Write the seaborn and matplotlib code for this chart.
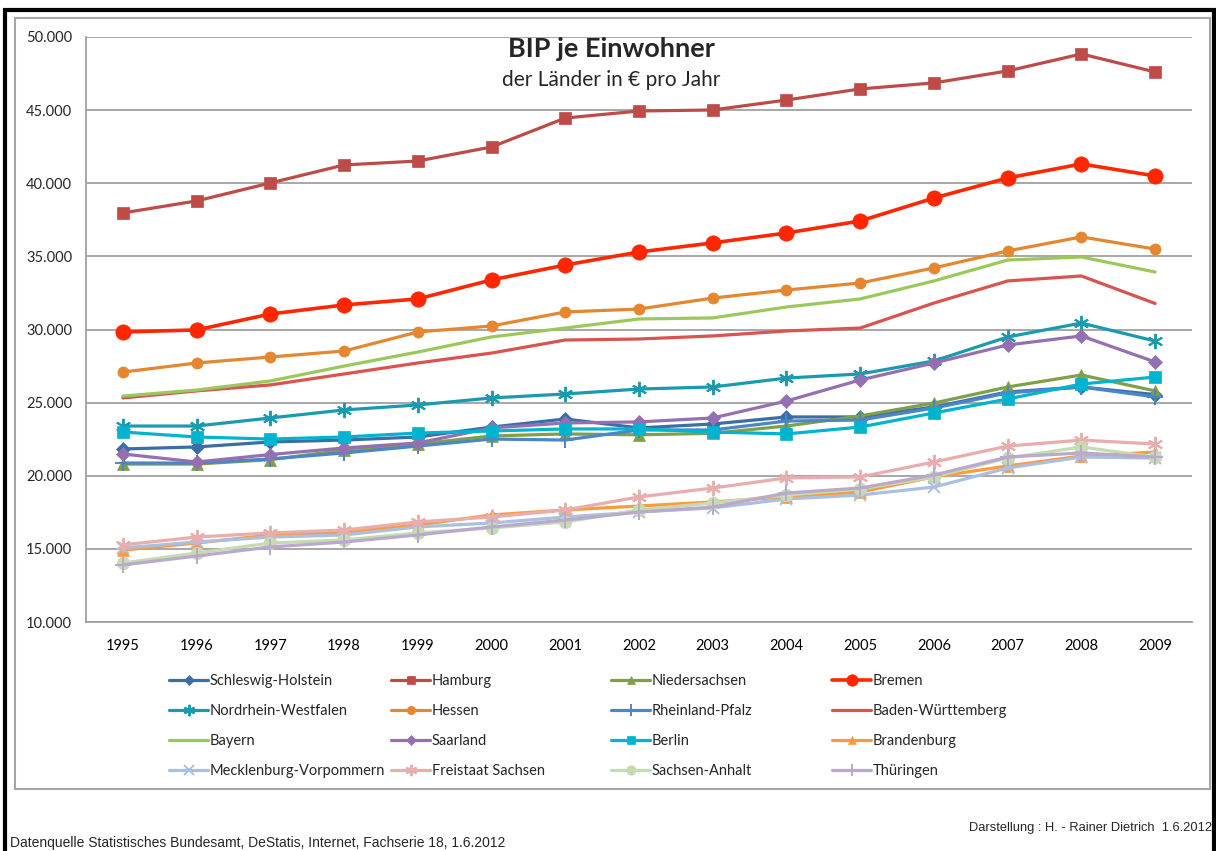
import numpy as np
import pandas as pd
import matplotlib
matplotlib.use("Agg")
import matplotlib.pyplot as plt
import seaborn as sns
from matplotlib.patches import Rectangle
from matplotlib.ticker import FuncFormatter, FixedLocator

## data (BIP je Einwohner, EUR)
years = [str(y) for y in range(1995, 2010)]

schleswig_holstein = [21830, 21970, 22310, 22440, 22650, 23330, 23880, 23270, 23540, 24020, 24020, 24700, 25730, 26070, 25550]
hamburg = [37970, 38790, 40020, 41250, 41520, 42480, 44460, 44940, 45010, 45690, 46450, 46860, 47680, 48840, 47610]
niedersachsen = [20800, 20800, 21100, 21750, 22170, 22720, 22860, 22800, 22900, 23400, 24090, 24970, 26070, 26890, 25800]
bremen = [29830, 29970, 31060, 31680, 32090, 33390, 34410, 35300, 35920, 36600, 37420, 38990, 40360, 41320, 40500]
nordrhein_westfalen = [23400, 23400, 23950, 24500, 24840, 25320, 25590, 25930, 26070, 26680, 26960, 27850, 29490, 30440, 29210]
hessen = [27090, 27710, 28120, 28530, 29830, 30240, 31200, 31400, 32150, 32700, 33180, 34210, 35370, 36330, 35500]
rheinland_pfalz = [20870, 20870, 21150, 21560, 22030, 22510, 22440, 23130, 23130, 23740, 23810, 24630, 25660, 26070, 25390]
baden_wuerttemberg = [25320, 25800, 26210, 26960, 27710, 28390, 29280, 29350, 29560, 29900, 30100, 31810, 33320, 33660, 31780]
bayern = [25450, 25860, 26480, 27500, 28460, 29490, 30100, 30720, 30790, 31540, 32090, 33320, 34750, 34960, 33930]
saarland = [21490, 20940, 21450, 21900, 22240, 23270, 23610, 23680, 23950, 25110, 26550, 27710, 28940, 29560, 27780]
berlin = [22990, 22650, 22510, 22650, 22920, 23060, 23200, 23200, 22990, 22860, 23330, 24290, 25250, 26270, 26750]
brandenburg = [14920, 15400, 15950, 16150, 16630, 17320, 17660, 17930, 18210, 18550, 18890, 19920, 20670, 21350, 21620]
mecklenburg_vorpommern = [15060, 15470, 15810, 15950, 16500, 16770, 17180, 17520, 17800, 18410, 18680, 19230, 20530, 21280, 21210]
freistaat_sachsen = [15270, 15810, 16090, 16290, 16840, 17180, 17660, 18550, 19160, 19850, 19920, 20940, 22030, 22440, 22170]
sachsen_anhalt = [14030, 14720, 15400, 15610, 16090, 16430, 16840, 17660, 18140, 18680, 19090, 19920, 21210, 21970, 21280]
thueringen = [13900, 14510, 15130, 15470, 15950, 16500, 16970, 17520, 17860, 18820, 19160, 20050, 21280, 21560, 21280]

## series: name, values, colour, marker, markersize, linewidth
series = [
    ("Schleswig-Holstein", schleswig_holstein, "#3A6EA5", "D", 7, 2.3),
    ("Hamburg", hamburg, "#BE4B48", "s", 8.5, 2.3),
    ("Niedersachsen", niedersachsen, "#7FA046", "^", 8, 2.3),
    ("Bremen", bremen, "#FF2600", "o", 11, 2.6),
    ("Nordrhein-Westfalen", nordrhein_westfalen, "#1A9AAF", (6, 2, 0), 11, 2.3),
    ("Hessen", hessen, "#E4872F", "o", 8, 2.3),
    ("Rheinland-Pfalz", rheinland_pfalz, "#4A86C8", "+", 11, 2.3),
    ("Baden-Württemberg", baden_wuerttemberg, "#D9534F", None, 0, 2.3),
    ("Bayern", bayern, "#9BC85B", None, 0, 2.3),
    ("Saarland", saarland, "#9470B3", "D", 7, 2.3),
    ("Berlin", berlin, "#00B4D0", "s", 8.5, 2.3),
    ("Brandenburg", brandenburg, "#FF9A3C", "^", 8, 2.3),
    ("Mecklenburg-Vorpommern", mecklenburg_vorpommern, "#A9C0E0", "x", 9, 2.3),
    ("Freistaat Sachsen", freistaat_sachsen, "#E8ADAC", (6, 2, 0), 11, 2.3),
    ("Sachsen-Anhalt", sachsen_anhalt, "#C6DBB0", "o", 9, 2.3),
    ("Thüringen", thueringen, "#B9A9CE", "+", 11, 2.3),
]

sns.set_style("white")
plt.rcParams["font.family"] = ["Lato", "DejaVu Sans"]

fig = plt.figure(figsize=(12.16, 8.51), dpi=100)
W, H = 1216, 851
ax = fig.add_axes([86 / W, 1 - 622 / H, (1192 - 86) / W, (622 - 37) / H])

xs = np.arange(len(years))
handles = []
for name, vals, col, mk, ms, lw in series:
    sns.lineplot(x=xs, y=vals, ax=ax, color=col, lw=lw, marker=mk, markersize=ms,
                 markeredgecolor=col,
                 markeredgewidth=1.4 if mk in ("+", "x") or isinstance(mk, tuple) else 0.5,
                 label=name, legend=False)
    handles.append(ax.lines[-1])

## axes
ax.set_xlim(-0.5, len(years) - 0.5)
ax.set_ylim(10000, 50000)
ax.set_yticks(np.arange(10000, 50001, 5000))
ax.yaxis.set_major_formatter(FuncFormatter(lambda v, p: f"{int(v):,}".replace(",", ".")))
ax.set_xticks(xs)
ax.set_xticklabels(years)
ax.xaxis.set_minor_locator(FixedLocator(np.arange(-0.5, len(years), 1.0)))
ax.tick_params(axis="x", which="major", length=0, pad=12, labelsize=10.5, colors="black")
ax.tick_params(axis="x", which="minor", length=5, width=1.2, color="#A0A0A0", direction="out")
ax.tick_params(axis="y", length=6, width=1.2, color="#A0A0A0", labelsize=10.5, pad=4)
ax.grid(axis="y", color="#A0A0A0", lw=1.3)
ax.set_axisbelow(True)
for s in ["top", "right"]:
    ax.spines[s].set_visible(False)
for s in ["left", "bottom"]:
    ax.spines[s].set_color("#A0A0A0")
    ax.spines[s].set_linewidth(1.3)
ax.set_xlabel("")
ax.set_ylabel("")

## titles
fig.text(611 / W, 1 - 49 / H, "BIP je Einwohner", ha="center", va="center", fontsize=19.5, fontweight="bold")
fig.text(611 / W, 1 - 80 / H, "der Länder in € pro Jahr", ha="center", va="center", fontsize=15)

## legend: 4 columns, row-major like Excel
col_x = [169, 391, 611, 832]
for c in range(4):
    hs = [handles[4 * r + c] for r in range(4)]
    labs = [series[4 * r + c][0] for r in range(4)]
    fig.legend(hs, labs, loc="upper left", bbox_to_anchor=(col_x[c] / W, 1 - 674 / H),
               frameon=False, fontsize=10.5, handlelength=2.7, handletextpad=0.1,
               labelspacing=1.1, markerscale=0.75, borderaxespad=0, borderpad=0)

## frames
fig.patches.append(Rectangle((15 / W, 1 - 789 / H), (1210 - 15) / W, (789 - 18) / H,
                             transform=fig.transFigure, fill=False, ec="#A6A6A6", lw=1.5))
fig.patches.append(Rectangle((5 / W, -0.1), (1214 - 5) / W, 1.1 - 10 / H,
                             transform=fig.transFigure, fill=False, ec="black", lw=3))

## footer
fig.text(1212 / W, 1 - 828 / H, "Darstellung : H. - Rainer Dietrich  1.6.2012", ha="right", va="center",
         fontsize=9.3, family=["Liberation Sans", "DejaVu Sans"])
fig.text(10 / W, 1 - 843 / H, "Datenquelle Statistisches Bundesamt, DeStatis, Internet, Fachserie 18, 1.6.2012",
         ha="left", va="center", fontsize=10, family=["Liberation Sans", "DejaVu Sans"])

fig.savefig("out.png", dpi=100)
